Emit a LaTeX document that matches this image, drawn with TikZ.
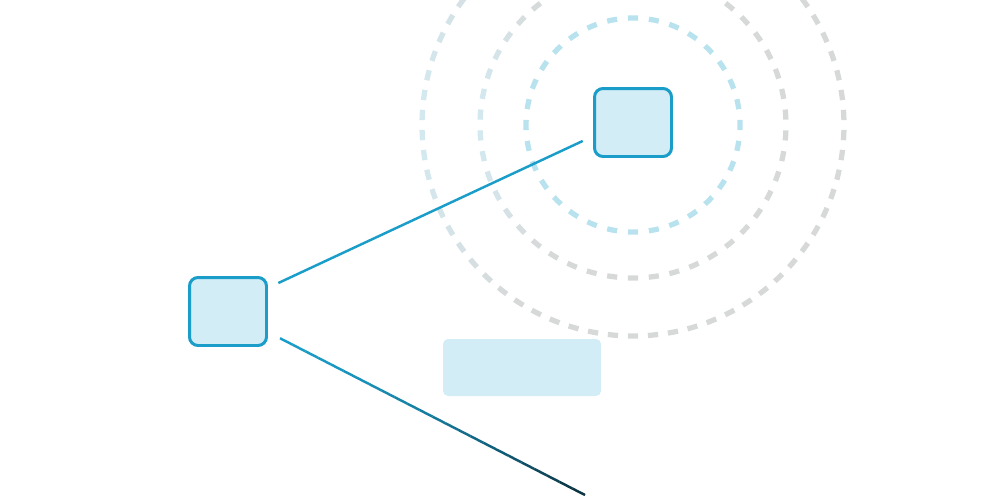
\documentclass[tikz,border=0pt]{standalone}
\usepackage{xcolor}
\usepackage{tikz}
\usetikzlibrary{calc}

\definecolor{edgeblue}{HTML}{1A9DC9}
\definecolor{boxfill}{HTML}{D2EDF6}
\definecolor{ringblue}{HTML}{B9E2EF}
\definecolor{ringgray}{HTML}{D7D9D9}
\definecolor{ringpale}{HTML}{D3E8EF}
\definecolor{wiredark}{HTML}{0B2F3C}

\begin{document}
\begin{tikzpicture}[x=0.02cm, y=0.02cm,
    box/.style={rectangle,draw=edgeblue,fill=boxfill,line width=1.7pt,rounded corners=0.17cm,
        minimum width=1.54cm,minimum height=1.36cm,inner sep=0pt},
    tag/.style={rectangle,fill=boxfill,rounded corners=0.1cm,minimum width=3.16cm,minimum height=1.14cm,inner sep=0pt},
    Ring/.style={line width=3pt},
    Wire/.style={line width=1.4pt, edgeblue},
                        ]
    \useasboundingbox (0,0) rectangle (989,495);
    \coordinate (hub) at (633,370);
    % grey rings, one arc per dash
    \foreach \rad/\cnt/\dw in {211/66/2.8, 153/46/3.8}{
      \foreach \i in {1,...,\cnt}{
        \pgfmathsetmacro\ang{270-\dw/2+(\i-1)*(360/\cnt)}
        \pgfmathtruncatemacro\gr{min(100,max(0,(1+cos(\ang+\dw/2))*100/0.4))}
        \draw[Ring, ringgray!\gr!ringpale] ($(hub)+(\ang:\rad)$) arc[start angle=\ang, delta angle=\dw, radius=\rad];
      }
    }
    \foreach \i in {1,...,32}{
      \pgfmathsetmacro\ang{270-2.7+(\i-1)*11.25}
      \draw[Ring, ringblue] ($(hub)+(\ang:107)$) arc[start angle=\ang, delta angle=5.4, radius=107];
    }

    \node[box] (right_node) at (633,372.5) {};
    \node[box] (left_node)  at (228,183.5) {};
    \node[tag] (tag_node)   at (522,127.5) {};
    \coordinate (wire_end) at (585,0);

    \draw[Wire, shorten >=1.11cm, shorten <=1.11cm] ([yshift=0.1cm]left_node.center) -- ([yshift=0.1cm]right_node.center);

    \coordinate (wire_start) at ($(left_node.center)!1.17cm!(wire_end)$);
    \foreach \k in {1,...,24}{
      \pgfmathsetmacro\ta{(\k-1)/24}
      \pgfmathsetmacro\tb{\k/24}
      \pgfmathtruncatemacro\mix{100*((\k-0.5)/24)^1.6}
      \draw[Wire, wiredark!\mix!edgeblue] ($(wire_start)!\ta!(wire_end)$) -- ($(wire_start)!\tb!(wire_end)$);
    }

\end{tikzpicture}
\end{document}
